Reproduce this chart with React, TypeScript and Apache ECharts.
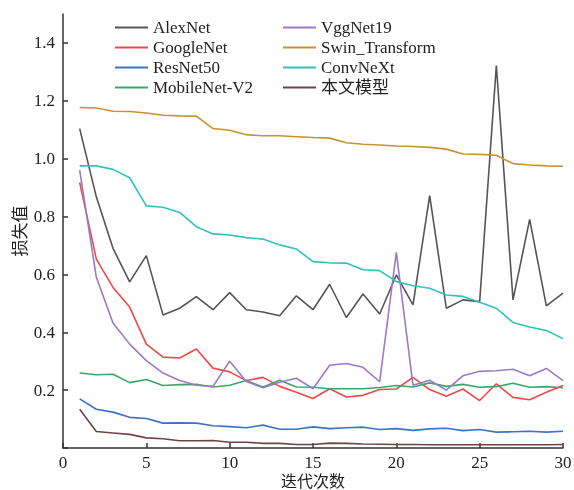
import React, { useEffect, useRef } from "react";
import * as echarts from "echarts";

const epochs = Array.from({ length: 30 }, (_, i) => i + 1);

const seriesNames = [
  "AlexNet",
  "GoogleNet",
  "ResNet50",
  "MobileNet-V2",
  "VggNet19",
  "Swin_Transform",
  "ConvNeXt",
  "本文模型",
];

const alexNet = [1.104, 0.868, 0.69, 0.574, 0.665, 0.46, 0.483, 0.523, 0.478, 0.537, 0.478, 0.47, 0.457, 0.526, 0.478, 0.566, 0.451, 0.532, 0.463, 0.598, 0.495, 0.872, 0.483, 0.512, 0.506, 1.322, 0.512, 0.79, 0.491, 0.535];
const googleNet = [0.918, 0.653, 0.555, 0.487, 0.359, 0.314, 0.311, 0.342, 0.276, 0.263, 0.233, 0.244, 0.213, 0.193, 0.171, 0.205, 0.176, 0.182, 0.202, 0.204, 0.244, 0.202, 0.179, 0.204, 0.164, 0.222, 0.175, 0.167, 0.193, 0.216];
const resNet50 = [0.17, 0.134, 0.124, 0.106, 0.102, 0.086, 0.087, 0.086, 0.077, 0.074, 0.07, 0.079, 0.065, 0.065, 0.073, 0.067, 0.07, 0.072, 0.064, 0.067, 0.061, 0.066, 0.068, 0.06, 0.064, 0.055, 0.056, 0.058, 0.055, 0.058];
const mobileNetV2 = [0.259, 0.253, 0.255, 0.226, 0.237, 0.216, 0.219, 0.22, 0.211, 0.217, 0.233, 0.211, 0.234, 0.211, 0.21, 0.205, 0.205, 0.205, 0.209, 0.216, 0.211, 0.225, 0.213, 0.22, 0.21, 0.212, 0.224, 0.21, 0.212, 0.208];
const vggNet19 = [0.96, 0.59, 0.432, 0.359, 0.302, 0.259, 0.233, 0.217, 0.213, 0.3, 0.23, 0.208, 0.227, 0.241, 0.205, 0.286, 0.292, 0.279, 0.229, 0.676, 0.217, 0.234, 0.2, 0.25, 0.265, 0.267, 0.272, 0.25, 0.275, 0.233];
const swinTransform = [1.177, 1.175, 1.164, 1.163, 1.158, 1.15, 1.148, 1.147, 1.104, 1.098, 1.083, 1.079, 1.079, 1.076, 1.073, 1.071, 1.055, 1.05, 1.047, 1.044, 1.042, 1.039, 1.033, 1.016, 1.015, 1.012, 0.983, 0.978, 0.975, 0.974];
const convNeXt = [0.975, 0.975, 0.963, 0.934, 0.837, 0.832, 0.814, 0.765, 0.74, 0.736, 0.727, 0.722, 0.702, 0.688, 0.644, 0.64, 0.639, 0.616, 0.613, 0.575, 0.561, 0.552, 0.529, 0.524, 0.504, 0.483, 0.434, 0.418, 0.406, 0.378];
const ourModel = [0.134, 0.057, 0.052, 0.047, 0.035, 0.032, 0.025, 0.025, 0.026, 0.02, 0.02, 0.016, 0.016, 0.012, 0.012, 0.017, 0.016, 0.014, 0.013, 0.012, 0.012, 0.011, 0.011, 0.011, 0.011, 0.011, 0.011, 0.011, 0.011, 0.012];

const seriesValues = [alexNet, googleNet, resNet50, mobileNetV2, vggNet19, swinTransform, convNeXt, ourModel];
const seriesColors = ["#555555", "#f04848", "#3a74c6", "#3ba66c", "#9a7ac8", "#c8922e", "#30c2bd", "#6e4448"];

const xTicks = [0, 5, 10, 15, 20, 25, 30];
const yTicks = [0, 0.2, 0.4, 0.6, 0.8, 1.0, 1.2, 1.4];
const yTickLabels = [0.2, 0.4, 0.6, 0.8, 1.0, 1.2, 1.4];

const FONT = "'Liberation Serif', 'Noto Sans CJK SC', serif";

export default function App() {
  const ref = useRef<HTMLDivElement>(null);
  useEffect(() => {
    if (!ref.current) return;
    const chart = echarts.init(ref.current, undefined, { renderer: "svg" });
    const legendText = { fontFamily: FONT, fontSize: 17, color: "#222" };
    const legendBase = {
      orient: "vertical",
      top: 14,
      icon: "rect",
      itemWidth: 33,
      itemHeight: 2,
      itemGap: 3,
      textStyle: legendText,
    };
    chart.setOption({
      animation: false,
      textStyle: { fontFamily: FONT },
      grid: { left: 63, right: 11, top: 14, bottom: 42, containLabel: false, outerBoundsMode: "none" },
      legend: [
        { ...legendBase, left: 110, data: seriesNames.slice(0, 4) },
        { ...legendBase, left: 278, data: seriesNames.slice(4) },
      ],
      xAxis: {
        type: "value",
        min: 0,
        max: 30,
        interval: 5,
        name: "迭代次数",
        nameLocation: "middle",
        nameGap: 24,
        nameMoveOverlap: false,
        nameTextStyle: { fontFamily: "'Noto Sans CJK SC', sans-serif", fontSize: 16, lineHeight: 16, color: "#222" },
        axisLine: { lineStyle: { color: "#333", width: 1.5 } },
        axisTick: { inside: true, length: 5, lineStyle: { color: "#333", width: 1.5 }, customValues: xTicks },
        axisLabel: { fontFamily: FONT, fontSize: 17, lineHeight: 16, color: "#222", margin: 6, customValues: xTicks },
        splitLine: { show: false },
      },
      yAxis: {
        type: "value",
        min: 0,
        max: 1.5,
        interval: 0.2,
        name: "损失值",
        nameLocation: "middle",
        nameGap: 36,
        nameMoveOverlap: false,
        nameRotate: 90,
        nameTextStyle: { fontFamily: "'Noto Sans CJK SC', sans-serif", fontSize: 17, color: "#222" },
        axisLine: { show: true, lineStyle: { color: "#333", width: 1.5 } },
        axisTick: { show: true, inside: true, length: 5, lineStyle: { color: "#333", width: 1.5 }, customValues: yTicks },
        axisLabel: {
          fontFamily: FONT,
          fontSize: 17,
          color: "#222",
          margin: 8,
          customValues: yTickLabels,
          formatter: (v: number) => v.toFixed(1),
        },
        splitLine: { show: false },
      },
      series: seriesNames.map((name, k) => ({
        name,
        type: "line",
        symbol: "none",
        color: seriesColors[k],
        lineStyle: { width: 1.6, color: seriesColors[k] },
        data: epochs.map((e, i) => [e, seriesValues[k][i]]),
      })),
    });
    return () => chart.dispose();
  }, []);
  return <div ref={ref} style={{ position: "fixed", left: 0, top: 0, width: 574, height: 490 }} />;
}
